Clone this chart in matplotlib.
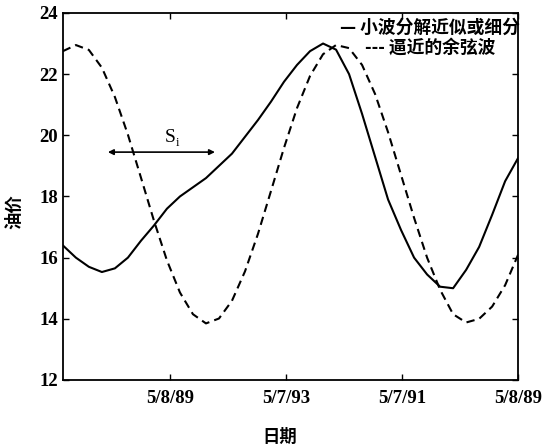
import numpy as np
import matplotlib.pyplot as plt

plt.rcParams['font.family'] = ['Noto Sans CJK SC', 'DejaVu Sans']

# x in days from start of window, sampled every 13 days
days = np.arange(0, 456, 13)

wavelet_approx = [16.4, 16.0, 15.7, 15.53, 15.65, 16.0, 16.55, 17.05, 17.6, 18.0,
                  18.3, 18.6, 19.0, 19.4, 19.95, 20.5, 21.1, 21.75, 22.3, 22.75,
                  23.0, 22.8, 22.0, 20.7, 19.3, 17.9, 16.9, 16.0, 15.45, 15.05,
                  15.0, 15.6, 16.35, 17.4, 18.5, 19.26]

cosine_fit = [22.75, 22.95, 22.79, 22.21, 21.25, 20.02, 18.62, 17.21, 15.91, 14.86,
              14.15, 13.85, 14.01, 14.59, 15.55, 16.78, 18.18, 19.59, 20.89, 21.94,
              22.65, 22.95, 22.85, 22.3, 21.35, 20.1, 18.7, 17.3, 16.0, 14.95,
              14.15, 13.88, 14.0, 14.4, 15.1, 16.1]

tick_pos = [107, 223, 339, 455]
tick_labels = ["5/8/89", "5/7/93", "5/7/91", "5/8/89"]

fig = plt.figure(figsize=(5.42, 4.46), dpi=100)
ax = fig.add_axes([0.116, 0.148, 0.84, 0.823])

ax.plot(days, wavelet_approx, color="black", lw=1.5)
ax.plot(days, cosine_fit, color="black", lw=1.5, ls=(0, (4, 2.5)))

ax.set_xlim(0, 455)
ax.set_ylim(12, 24)
ax.set_yticks(range(12, 25, 2))
ax.set_xticks(tick_pos)
ax.set_xticklabels(tick_labels)
ax.tick_params(direction="in", length=4, top=True, right=True, width=1)
ax.tick_params(axis="x", pad=7)
for lbl in ax.get_xticklabels() + ax.get_yticklabels():
    lbl.set_family("Liberation Serif")
    lbl.set_fontweight("bold")
    lbl.set_fontsize(13.5)
for s in ax.spines.values():
    s.set_linewidth(1.3)

ax.set_xlabel("日期", fontsize=12.5, fontweight="bold")
ax.set_ylabel("油价", fontsize=12.5, fontweight="bold")
ax.xaxis.set_label_coords(0.477, -0.131)
ax.yaxis.set_label_coords(-0.087, 0.46)

# period annotation
ax.annotate("", xy=(45, 19.45), xytext=(152, 19.45),
            arrowprops=dict(arrowstyle="<|-|>", color="black", lw=1.2,
                            mutation_scale=8, shrinkA=0, shrinkB=0))
ax.text(107, 19.65, "S", family="Liberation Serif", fontsize=14, ha="center", va="bottom")
ax.text(115, 19.55, "i", family="Liberation Serif", fontsize=9, ha="center", va="bottom")

# legend, lines centred like the original
ax.text(0.807, 0.959, "— 小波分解近似或细分", transform=ax.transAxes, ha="center",
        va="center", fontsize=12.8, fontweight="bold")
ax.text(0.807, 0.905, "--- 逼近的余弦波", transform=ax.transAxes, ha="center",
        va="center", fontsize=12.8, fontweight="bold")

fig.savefig("out.png", dpi=100)
